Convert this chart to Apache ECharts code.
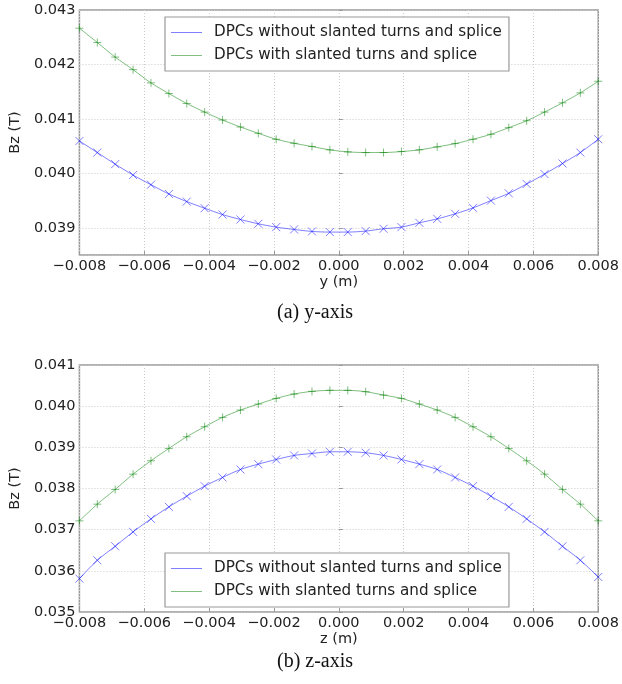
<!DOCTYPE html>
<html>
<head>
<meta charset="utf-8">
<script src="https://cdn.jsdelivr.net/npm/echarts@6/dist/echarts.min.js"></script>
<style>
  html, body { margin: 0; padding: 0; background: #fff; }
  #chart { width: 622px; height: 684px; }
</style>
</head>
<body>
<div id="chart"></div>
<script>
// sample positions (m), same for the y scan and the z scan
var posM = [-0.008, -0.007448, -0.006897, -0.006345, -0.005793, -0.005241, -0.004690, -0.004138,
  -0.003586, -0.003034, -0.002483, -0.001931, -0.001379, -0.000828, -0.000276, 0.000276,
  0.000828, 0.001379, 0.001931, 0.002483, 0.003034, 0.003586, 0.004138, 0.004690,
  0.005241, 0.005793, 0.006345, 0.006897, 0.007448, 0.008]

// (a) along y
var yPlain = [0.040595, 0.040382, 0.040169, 0.039968, 0.039791, 0.039621, 0.039481, 0.039359,
  0.039243, 0.039152, 0.039073, 0.039012, 0.038969, 0.038933, 0.038921, 0.038921,
  0.038939, 0.038982, 0.039012, 0.039091, 0.039164, 0.039256, 0.039365, 0.039499,
  0.039633, 0.039804, 0.039986, 0.040181, 0.040382, 0.040626]
var ySlanted = [0.042665, 0.042403, 0.042135, 0.041904, 0.041661, 0.041466, 0.041283, 0.041125,
  0.040979, 0.040851, 0.040735, 0.040626, 0.040552, 0.040492, 0.040431, 0.040394,
  0.040382, 0.040382, 0.040400, 0.040431, 0.040486, 0.040546, 0.040626, 0.040717,
  0.040839, 0.040966, 0.041125, 0.041295, 0.041478, 0.041691]

// (b) along z
var zPlain = [0.035811, 0.036257, 0.036597, 0.036946, 0.037262, 0.037554, 0.037814, 0.038057,
  0.038268, 0.038462, 0.038592, 0.038705, 0.038803, 0.038851, 0.038892, 0.038892,
  0.038868, 0.038803, 0.038705, 0.038592, 0.038462, 0.038268, 0.038057, 0.037814,
  0.037554, 0.037262, 0.036946, 0.036597, 0.036257, 0.035851]
var zSlanted = [0.037214, 0.037619, 0.037976, 0.038349, 0.038673, 0.038973, 0.039257, 0.039500,
  0.039727, 0.039905, 0.040051, 0.040189, 0.040295, 0.040359, 0.040384, 0.040384,
  0.040351, 0.040270, 0.040189, 0.040051, 0.039905, 0.039727, 0.039500, 0.039257,
  0.038973, 0.038673, 0.038349, 0.037976, 0.037619, 0.037214]

var seriesNames = ['DPCs without slanted turns and splice', 'DPCs with slanted turns and splice']
var captions = ['(a) y-axis', '(b) z-axis']
var xNames = ['y (m)', 'z (m)']
var yName = 'Bz (T)'

var chart = echarts.init(document.getElementById('chart'))

var blue = 'rgba(0,0,255,0.5)'
var green = 'rgba(0,128,0,0.5)'
var crossMark = 'path://M0,0L10,10M0,10L10,0'
var plusMark = 'path://M5,0L5,10M0,5L10,5'
var font = 'DejaVu Sans'

function pairs (vals) {
  return posM.map(function (x, i) { return [x, vals[i]] })
}

function tickText (v) {
  if (Math.abs(v) < 1e-9) return '0.000'
  return v.toFixed(3).replace('-', '\u2212')
}

function onThousandth (v) {
  return Math.abs(v * 1000 - Math.round(v * 1000)) < 1e-6
}

function line (name, vals, color, mark, idx) {
  return {
    name: name,
    type: 'line',
    xAxisIndex: idx,
    yAxisIndex: idx,
    data: pairs(vals),
    smooth: 0.3,
    symbol: mark,
    symbolSize: 8,
    showAllSymbol: true,
    lineStyle: { color: color, width: 1 },
    itemStyle: { color: color, borderColor: color, borderWidth: 1 },
    emphasis: { disabled: true },
    animation: false
  }
}

function xAxis (idx) {
  return {
    type: 'value',
    gridIndex: idx,
    min: -0.008,
    max: 0.008,
    interval: 0.002,
    name: xNames[idx],
    nameLocation: 'middle',
    nameGap: 14,
    nameTextStyle: { fontFamily: font, fontSize: 14.5, color: '#222' },
    axisLine: { show: false },
    axisTick: { inside: true, length: 4, lineStyle: { color: '#999' } },
    axisLabel: { margin: 4, fontFamily: font, fontSize: 14.5, color: '#222', formatter: tickText },
    splitLine: { lineStyle: { color: '#ccc', type: [1, 2] } }
  }
}

function yAxis (idx, min, max, extra) {
  var ax = {
    type: 'value',
    gridIndex: idx,
    min: min,
    max: max,
    name: yName,
    nameLocation: 'middle',
    nameGap: 44,
    nameTextStyle: { fontFamily: font, fontSize: 14.5, color: '#222' },
    axisLine: { show: false },
    axisTick: { inside: true, length: 4, lineStyle: { color: '#999' } },
    axisLabel: {
      margin: 4, fontFamily: font, fontSize: 14.5, color: '#222',
      formatter: function (v) { return onThousandth(v) ? tickText(v) : '' }
    },
    splitLine: { lineStyle: { color: '#ccc', type: [1, 2] } }
  }
  return Object.assign(ax, extra)
}

function legend (top) {
  return {
    orient: 'vertical',
    left: 165,
    top: top,
    data: seriesNames,
    icon: 'rect',
    itemWidth: 31,
    itemHeight: 1,
    itemGap: 8,
    padding: [8, 7, 8, 6],
    borderColor: '#999',
    borderWidth: 1.2,
    backgroundColor: '#fff',
    selectedMode: false,
    itemStyle: { borderWidth: 0 },
    textStyle: { fontFamily: font, fontSize: 15.2, color: '#222', padding: [0, 0, 0, 7] }
  }
}

var option = {
  backgroundColor: '#fff',
  title: [
    { text: captions[0], left: 272, top: 298, textStyle: { fontFamily: 'Liberation Serif', fontSize: 20, fontWeight: 'normal', color: '#111' } },
    { text: captions[1], left: 272, top: 647, textStyle: { fontFamily: 'Liberation Serif', fontSize: 20, fontWeight: 'normal', color: '#111' } }
  ],
  grid: [
    { left: 68, top: 10, width: 537, height: 245, show: true, borderColor: '#999', borderWidth: 1.5, backgroundColor: 'transparent' },
    { left: 68, top: 365, width: 537, height: 247, show: true, borderColor: '#999', borderWidth: 1.5, backgroundColor: 'transparent' }
  ],
  xAxis: [xAxis(0), xAxis(1)],
  yAxis: [
    yAxis(0, 0.0385, 0.043, { splitNumber: 5 }),
    yAxis(1, 0.035, 0.041, { interval: 0.001 })
  ],
  legend: [legend(17), legend(553)],
  series: [
    line(seriesNames[0], yPlain, blue, crossMark, 0),
    line(seriesNames[1], ySlanted, green, plusMark, 0),
    line(seriesNames[0], zPlain, blue, crossMark, 1),
    line(seriesNames[1], zSlanted, green, plusMark, 1)
  ]
}
chart.setOption(option)
</script>
</body>
</html>
